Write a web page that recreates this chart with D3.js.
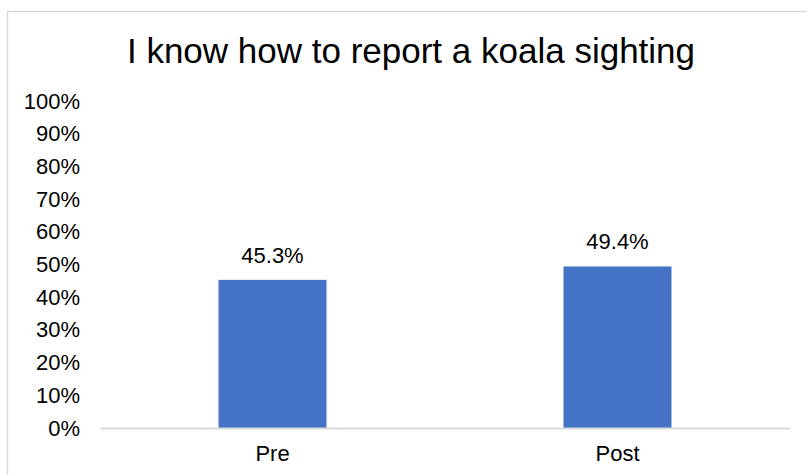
<!DOCTYPE html>
<html>
<head>
<meta charset="utf-8">
<script src="https://cdn.jsdelivr.net/npm/d3@7"></script>
<style>
  html, body { margin: 0; padding: 0; background: #fff; }
  svg { display: block; font-family: "Liberation Sans", Arial, sans-serif; }
</style>
</head>
<body>
<svg id="chart" width="807" height="475"></svg>
<script>
const chartTitle = "I know how to report a koala sighting";
const categories = ["Pre", "Post"];
const values = [45.3, 49.4];
const yTicks = [0, 10, 20, 30, 40, 50, 60, 70, 80, 90, 100];

const svg = d3.select("#chart");
const W = 807, H = 475;
const plot = { left: 100, right: 790, top: 101, bottom: 428 };
const labelSize = 22;

// chart frame
svg.append("rect")
  .attr("x", 7.5).attr("y", 11.5)
  .attr("width", W + 10).attr("height", H + 10)
  .attr("fill", "#fff").attr("stroke", "#d9d9d9").attr("stroke-width", 1.5);

svg.append("text")
  .attr("x", 411).attr("y", 63)
  .attr("text-anchor", "middle")
  .attr("font-size", 35)
  .attr("fill", "#000")
  .text(chartTitle);

const x = d3.scaleBand().domain(categories).range([plot.left, plot.right]);
const y = d3.scaleLinear().domain([0, 100]).range([plot.bottom, plot.top]);
const barW = x.bandwidth() * 0.313;

// y axis labels
const yAxis = d3.axisLeft(y).tickValues(yTicks).tickSize(0).tickPadding(0)
  .tickFormat(d => d + "%");
svg.append("g")
  .attr("transform", `translate(${plot.left - 20},0)`)
  .call(yAxis)
  .call(g => g.select(".domain").remove())
  .call(g => g.selectAll("text")
    .attr("font-size", labelSize).attr("fill", "#000")
    .attr("font-family", "Liberation Sans, Arial, sans-serif"));

// bars
svg.append("g").selectAll("rect")
  .data(categories)
  .join("rect")
  .attr("x", (d) => x(d) + (x.bandwidth() - barW) / 2)
  .attr("y", (d, i) => y(values[i]))
  .attr("width", barW)
  .attr("height", (d, i) => y(0) - y(values[i]))
  .attr("fill", "#4472c4");

// value labels
svg.append("g").selectAll("text")
  .data(categories)
  .join("text")
  .attr("x", d => x(d) + x.bandwidth() / 2)
  .attr("y", (d, i) => y(values[i]) - 17)
  .attr("text-anchor", "middle")
  .attr("font-size", labelSize)
  .attr("fill", "#000")
  .text((d, i) => values[i].toFixed(1) + "%");

// x axis
const xAxis = d3.axisBottom(x).tickSize(0).tickPadding(17);
svg.append("g")
  .attr("transform", `translate(0,${plot.bottom})`)
  .call(xAxis)
  .call(g => g.select(".domain").attr("stroke", "#d9d9d9").attr("stroke-width", 2))
  .call(g => g.selectAll("text")
    .attr("font-size", labelSize).attr("fill", "#000")
    .attr("font-family", "Liberation Sans, Arial, sans-serif"));
</script>
</body>
</html>
